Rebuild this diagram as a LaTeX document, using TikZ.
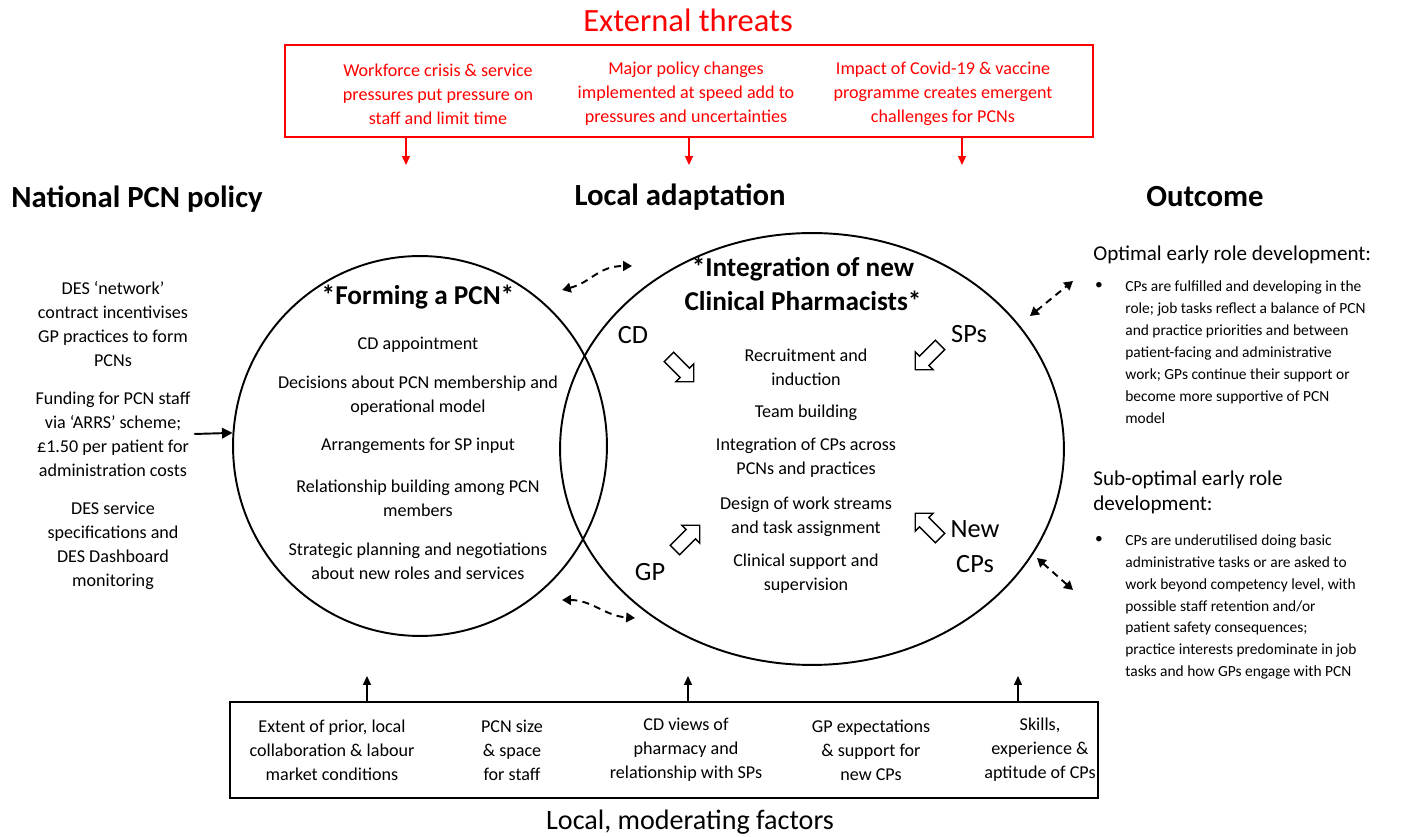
\documentclass[tikz,border=0pt]{standalone}
\usepackage{fontspec}
\setmainfont{Carlito}
\usetikzlibrary{arrows.meta,shapes.arrows,shapes.geometric,positioning}

\tikzset{
  txt/.style={align=center,inner sep=0pt,font=\fontsize{10.3}{13.6}\selectfont},
  redtxt/.style={txt,text=red},
  head/.style={inner sep=0pt,font=\fontsize{17.5}{20}\selectfont\bfseries},
  outtxt/.style={align=left,inner sep=0pt,anchor=west,font=\fontsize{8.8}{12.5}\selectfont},
  outhead/.style={align=left,inner sep=0pt,anchor=west,font=\fontsize{12}{14.2}\selectfont},
  bigarrow/.style={single arrow,draw,thick,minimum height=20pt,inner sep=3.4pt,
    single arrow head extend=3.4pt},
  dbl/.style={{Triangle[length=5pt,width=5.5pt]}-{Triangle[length=5pt,width=5.5pt]},
    line width=1.1pt,dash pattern=on 4pt off 3pt},
  redarr/.style={-{Triangle[length=5pt,width=4.5pt]},red,line width=0.6pt},
  uparr/.style={-{Triangle[length=5pt,width=4.5pt]},line width=0.6pt}
}

\begin{document}
\begin{tikzpicture}[x=0.02cm,y=-0.02cm]
  \useasboundingbox (0,0) rectangle (1401,837);

  % external threats
  \node[font=\fontsize{18.5}{22}\selectfont,text=red] (ext) at (688,20) {External threats};
  \node[draw=red,line width=1.2pt,minimum width=16.16cm,minimum height=1.84cm] (threats) at (689,91) {};
  \node[redtxt] (thr1) at (438,94) {Workforce crisis \& service\\pressures put pressure on\\staff and limit time};
  \node[redtxt] (thr2) at (686,94) {Major policy changes\\implemented at speed add to\\pressures and uncertainties};
  \node[redtxt] (thr3) at (943,94) {Impact of Covid-19 \& vaccine\\programme creates emergent\\challenges for PCNs};
  \foreach \x/\n in {406/r1,689/r2,962/r3}{
    \coordinate (\n) at (\x,165);
    \draw[redarr] (\x,0 |- threats.south) -- (\n);
  }

  % headings
  \node[head] (nat) at (137,199) {National PCN policy};
  \node[head] (loc) at (680,197) {Local adaptation};
  \node[head] (out) at (1205,197) {Outcome};

  % national policy
  \node[txt] (des) at (113,324) {DES `network'\\contract incentivises\\GP practices to form\\PCNs};
  \node[txt,inner sep=2pt] (fund) at (113,434) {Funding for PCN staff\\via `ARRS' scheme;\\\pounds1.50 per patient for\\administration costs};
  \node[txt] (spec) at (113,546) {DES service\\specifications and\\DES Dashboard\\monitoring};

  % the two circles
  \node[draw,ellipse,line width=1.1pt,minimum width=7.48cm,minimum height=7.6cm,inner sep=0pt] (form) at (420,446) {};
  \node[draw,ellipse,line width=1.1pt,minimum width=10.08cm,minimum height=8.64cm,inner sep=0pt] (integ) at (812,449) {};
  \draw[-{Triangle[length=6pt,width=6pt]},line width=1.1pt] (fund.east) -- (form.176);

  % forming a PCN
  \node[font=\fontsize{15.5}{18}\selectfont\bfseries,inner sep=0pt] (formt) at (418,297) {*Forming a PCN*};
  \node[txt] (f1) at (418,345) {CD appointment};
  \node[txt] (f2) at (418,396) {Decisions about PCN membership and\\operational model};
  \node[txt] (f3) at (418,446) {Arrangements for SP input};
  \node[txt] (f4) at (418,498) {Relationship building among PCN\\members};
  \node[txt] (f5) at (418,561) {Strategic planning and negotiations\\about new roles and services};

  % integration of CPs
  \node[align=center,font=\fontsize{15.5}{19}\selectfont\bfseries,inner sep=0pt] (integt) at (803,284) {*Integration of new\\Clinical Pharmacists*};
  \node[txt] (i1) at (806,367) {Recruitment and\\induction};
  \node[txt] (i2) at (806,413) {Team building};
  \node[txt] (i3) at (806,458) {Integration of CPs across\\PCNs and practices};
  \node[txt] (i4) at (806,517) {Design of work streams\\and task assignment};
  \node[txt] (i5) at (806,574) {Clinical support and\\supervision};
  \node[font=\fontsize{15}{19}\selectfont] (cd) at (633,335) {CD};
  \node[font=\fontsize{15}{19}\selectfont] (sps) at (969,334) {SPs};
  \node[font=\fontsize{15}{19}\selectfont] (gp) at (650,572) {GP};
  \node[align=center,font=\fontsize{15}{20}\selectfont,inner sep=0pt] (newcp) at (975,547) {New\\CPs};
  \node[bigarrow,rotate=-45] (acd) at (679,367) {};
  \node[bigarrow,rotate=-135] (asp) at (930,355) {};
  \node[bigarrow,rotate=45] (agp) at (685,540) {};
  \node[bigarrow,rotate=135] (anew) at (930,528) {};

  % links between circles
  \coordinate (d1) at (562,290);
  \coordinate (d2) at (632,266);
  \coordinate (d3) at (562,600);
  \coordinate (d4) at (635,618);
  \draw[dbl] (d1) .. controls (592,282) and (598,266) .. (d2);
  \draw[dbl] (d3) .. controls (592,600) and (605,616) .. (d4);

  % outcome
  \node[outhead] (opt) at (1093,255) {Optimal early role development:};
  \node[font=\fontsize{8.8}{12}\selectfont,inner sep=0pt] (b1) at (1099,286) {\textbullet};
  \node[outtxt] (opttxt) at (1125,352) {CPs are fulfilled and developing in the\\role; job tasks reflect a balance of PCN\\and practice priorities and between\\patient-facing and administrative\\work; GPs continue their support or\\become more supportive of PCN\\model};
  \node[outhead] (sub) at (1093,492) {Sub-optimal early role\\development:};
  \node[font=\fontsize{8.8}{12}\selectfont,inner sep=0pt] (b2) at (1099,540) {\textbullet};
  \node[outtxt] (subtxt) at (1125,607) {CPs are underutilised doing basic\\administrative tasks or are asked to\\work beyond competency level, with\\possible staff retention and/or\\patient safety consequences;\\practice interests predominate in job\\tasks and how GPs engage with PCN};
  \coordinate (o1) at (1030,316);
  \coordinate (o2) at (1073,281);
  \coordinate (o3) at (1037,558);
  \coordinate (o4) at (1073,590);
  \draw[dbl] (o1) -- (o2);
  \draw[dbl] (o3) -- (o4);

  % local moderating factors
  \node[draw,line width=1.2pt,minimum width=17.36cm,minimum height=1.92cm] (factors) at (664,750) {};
  \node[txt] (m1) at (332,750) {Extent of prior, local\\collaboration \& labour\\market conditions};
  \node[txt] (m2) at (512,750) {PCN size\\\& space\\for staff};
  \node[txt] (m3) at (686,750) {CD views of\\pharmacy and\\relationship with SPs};
  \node[txt] (m4) at (871,750) {GP expectations\\\& support for\\new CPs};
  \node[txt] (m5) at (1040,750) {Skills,\\experience \&\\aptitude of CPs};
  \foreach \x/\n in {367/u1,688/u2,1018/u3}{
    \coordinate (\n) at (\x,676);
    \draw[uparr] (\x,0 |- factors.north) -- (\n);
  }
  \node[font=\fontsize{16}{19}\selectfont,inner sep=0pt,anchor=base] (modt) at (690,830) {Local, moderating factors};
\end{tikzpicture}
\end{document}
